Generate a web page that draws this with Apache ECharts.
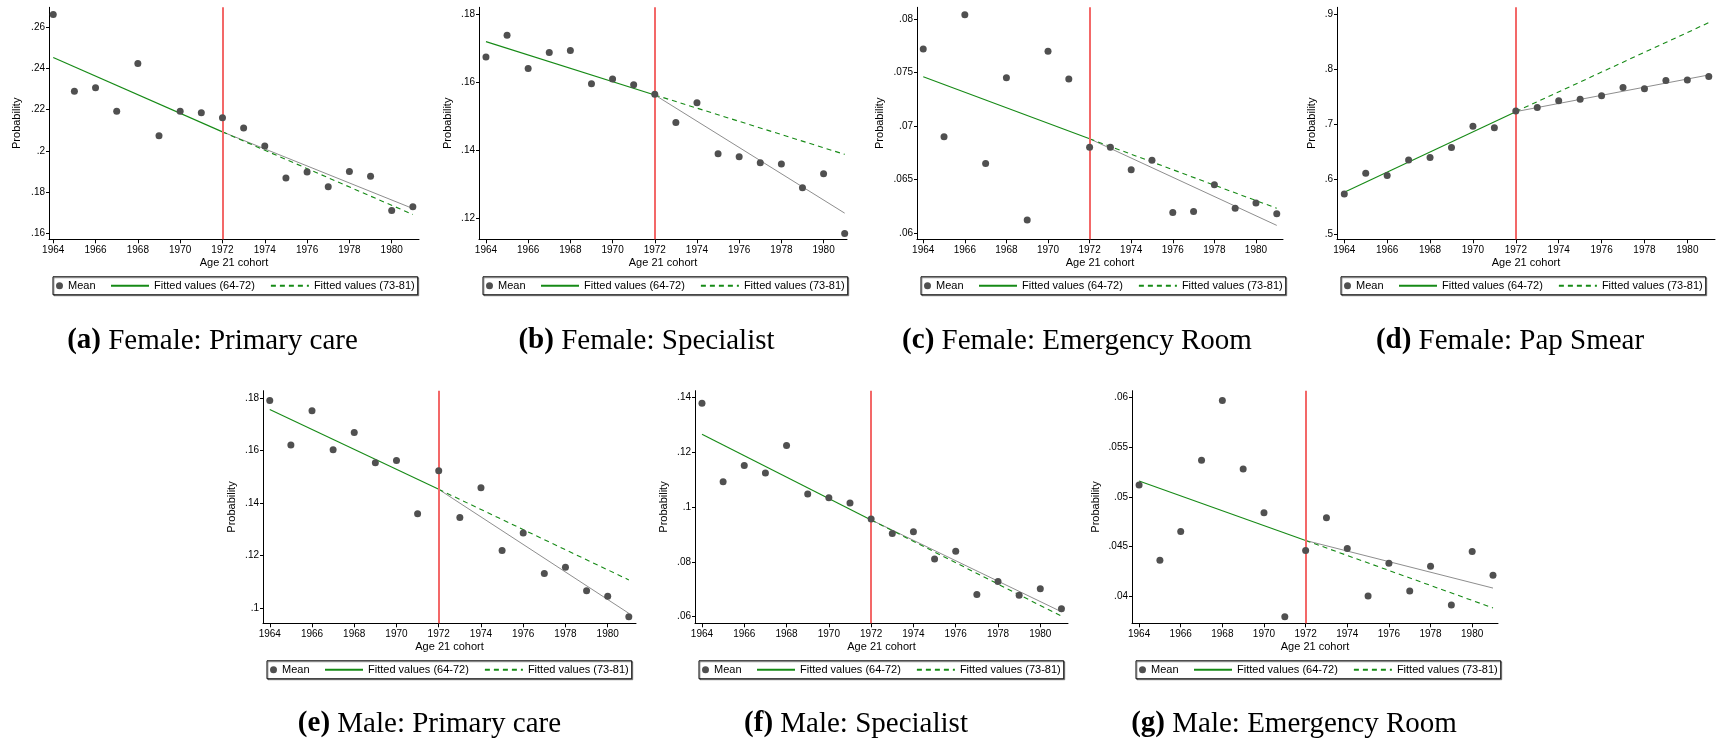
<!DOCTYPE html>
<html><head><meta charset="utf-8">
<script src="https://cdn.jsdelivr.net/npm/echarts@6/dist/echarts.min.js"></script>
<style>html,body{margin:0;padding:0;background:#fff}#c{width:1717px;height:742px}</style>
</head><body><div id="c"></div>
<script>
// ---------------- DATA ----------------
const years = [1964,1965,1966,1967,1968,1969,1970,1971,1972,1973,1974,1975,1976,1977,1978,1979,1980,1981];
const xTicks = [1964,1966,1968,1970,1972,1974,1976,1978,1980];
const cutoffYear = 1972;
const preFitYears = [1964, 1972];
const postFitYears = [1972, 1981];
const legendNames = ['Mean', 'Fitted values (64-72)', 'Fitted values (73-81)'];
const postLineName = 'Fitted (post)';

// (a) Female: Primary care
const femPrimaryMean = [.2660,.2289,.2305,.2192,.2423,.2073,.2192,.2184,.2160,.2111,.2024,.1869,.1898,.1826,.1900,.1877,.1711,.1729];
const femPrimaryPre = [.2452,.2092];
const femPrimaryExtrap = [.2092,.1692];
const femPrimaryPost = [.2092,.1721];
const femPrimaryTicks = [.16,.18,.2,.22,.24,.26];

// (b) Female: Specialist
const femSpecMean = [.1675,.1739,.1641,.1688,.1694,.1596,.1610,.1593,.1565,.1482,.1540,.1390,.1381,.1363,.1360,.1290,.1331,.1155];
const femSpecPre = [.1720,.1563];
const femSpecExtrap = [.1563,.1388];
const femSpecPost = [.1563,.1215];
const femSpecTicks = [.12,.14,.16,.18];

// (c) Female: Emergency Room
const femERMean = [.0772,.0690,.0804,.0665,.0745,.0612,.0770,.0744,.0680,.0680,.0659,.0668,.0619,.0620,.0645,.0623,.0628,.0618];
const femERPre = [.0746,.0688];
const femERExtrap = [.0688,.0623];
const femERPost = [.0688,.0607];
const femERTicks = [.06,.065,.07,.075,.08];

// (d) Female: Pap Smear
const femPapMean = [.5733,.6109,.6067,.6352,.6394,.6576,.6964,.6939,.7242,.7303,.7430,.7455,.7521,.7667,.7648,.7794,.7806,.7867];
const femPapPre = [.5764,.7230];
const femPapExtrap = [.7230,.8848];
const femPapPost = [.7230,.7897];
const femPapTicks = [.5,.6,.7,.8,.9];

// (e) Male: Primary care
const malePrimaryMean = [.1790,.1621,.1751,.1603,.1668,.1553,.1562,.1359,.1523,.1345,.1458,.1220,.1286,.1132,.1156,.1067,.1046,.0968];
const malePrimaryPre = [.1756,.1452];
const malePrimaryExtrap = [.1452,.1108];
const malePrimaryPost = [.1452,.0981];
const malePrimaryTicks = [.1,.12,.14,.16,.18];

// (f) Male: Specialist
const maleSpecMean = [.1378,.1092,.1151,.1124,.1224,.1047,.1034,.1015,.0956,.0903,.0910,.0810,.0839,.0681,.0728,.0678,.0702,.0629];
const maleSpecPre = [.1265,.0953];
const maleSpecExtrap = [.0953,.0602];
const maleSpecPost = [.0953,.0618];
const maleSpecTicks = [.06,.08,.1,.12,.14];

// (g) Male: Emergency Room
const maleERMean = [.0512,.0436,.0465,.0537,.0597,.0528,.0484,.0379,.0446,.0479,.0448,.0400,.0433,.0405,.0430,.0391,.0445,.0421];
const maleERPre = [.0516,.0456];
const maleERExtrap = [.0456,.0388];
const maleERPost = [.0456,.0408];
const maleERTicks = [.04,.045,.05,.055,.06];

const captionLetters = ['(a)','(b)','(c)','(d)','(e)','(f)','(g)'];
const captionTexts = ['Female: Primary care','Female: Specialist','Female: Emergency Room','Female: Pap Smear',
                      'Male: Primary care','Male: Specialist','Male: Emergency Room'];

const panelData = [
  {mean: femPrimaryMean, pre: femPrimaryPre, ext: femPrimaryExtrap, post: femPrimaryPost, ticks: femPrimaryTicks},
  {mean: femSpecMean, pre: femSpecPre, ext: femSpecExtrap, post: femSpecPost, ticks: femSpecTicks},
  {mean: femERMean, pre: femERPre, ext: femERExtrap, post: femERPost, ticks: femERTicks},
  {mean: femPapMean, pre: femPapPre, ext: femPapExtrap, post: femPapPost, ticks: femPapTicks},
  {mean: malePrimaryMean, pre: malePrimaryPre, ext: malePrimaryExtrap, post: malePrimaryPost, ticks: malePrimaryTicks},
  {mean: maleSpecMean, pre: maleSpecPre, ext: maleSpecExtrap, post: maleSpecPost, ticks: maleSpecTicks},
  {mean: maleERMean, pre: maleERPre, ext: maleERExtrap, post: maleERPost, ticks: maleERTicks}
];

// ---------------- LAYOUT / STYLE ----------------
const layout = [
  {left:49,   top:7.3,   width:370, height:232,   xMin:1963.80, xMax:1981.29, yMin:.1572, yMax:.2695, nameGap:27,   capX:212.5, capTop:326.5},
  {left:479,  top:7.3,   width:368, height:232,   xMin:1963.67, xMax:1981.11, yMin:.1138, yMax:.1821, nameGap:26,   capX:646.5, capTop:326.5},
  {left:917,  top:7.3,   width:366, height:232,   xMin:1963.70, xMax:1981.30, yMin:.0594, yMax:.0811, nameGap:32,   capX:1077,  capTop:326.5},
  {left:1337, top:7.3,   width:378, height:232,   xMin:1963.66, xMax:1981.29, yMin:.4909, yMax:.9127, nameGap:20,   capX:1510,  capTop:326.5},
  {left:263,  top:390.7, width:373, height:232.6, xMin:1963.68, xMax:1981.34, yMin:.0943, yMax:.1827, nameGap:26,   capX:429.5, capTop:709.5},
  {left:695,  top:390.7, width:373, height:232.6, xMin:1963.67, xMax:1981.31, yMin:.0576, yMax:.1424, nameGap:25.5, capX:856,   capTop:709.5},
  {left:1132, top:390.7, width:366, height:232.6, xMin:1963.66, xMax:1981.24, yMin:.03725,yMax:.0607, nameGap:30.5, capX:1294,  capTop:709.5}
];

const SANS = 'Liberation Sans, Arial, sans-serif';
const SERIF = 'Liberation Serif, Times New Roman, serif';
const GREEN = '#168a16';
const DOT = '#505050';
const GRAY = '#8e8e8e';
const RED = '#f36868';
const CAP_SIZE = 29;

const grids = [], xAxes = [], yAxes = [], series = [], legends = [], titles = [];

layout.forEach((L, i) => {
  const D = panelData[i];
  grids.push({left: L.left, top: L.top, width: L.width, height: L.height, containLabel: false});
  xAxes.push({
    type: 'value', gridIndex: i, min: L.xMin, max: L.xMax,
    name: 'Age 21 cohort', nameLocation: 'middle', nameGap: 18.5,
    nameTextStyle: {fontFamily: SANS, fontSize: 11, color: '#000'},
    axisLine: {onZero: false, lineStyle: {color: '#000', width: 1}},
    axisTick: {show: true, length: 4, customValues: xTicks, lineStyle: {color: '#000'}},
    axisLabel: {customValues: xTicks, margin: 6, fontFamily: SANS, fontSize: 10, color: '#000', formatter: v => String(v)},
    splitLine: {show: false}
  });
  yAxes.push({
    type: 'value', gridIndex: i, min: L.yMin, max: L.yMax,
    name: 'Probability', nameLocation: 'middle', nameRotate: 90, nameGap: L.nameGap,
    nameTextStyle: {fontFamily: SANS, fontSize: 11, color: '#000'},
    axisLine: {show: true, onZero: false, lineStyle: {color: '#000', width: 1}},
    axisTick: {show: true, length: 3, customValues: D.ticks, lineStyle: {color: '#000'}},
    axisLabel: {customValues: D.ticks, margin: 4, fontFamily: SANS, fontSize: 10, color: '#000',
                formatter: v => String(v).replace(/^0\./, '.')},
    splitLine: {show: false}
  });
  series.push({
    type: 'line', name: postLineName, xAxisIndex: i, yAxisIndex: i, symbol: 'none', z: 2,
    data: postFitYears.map((y, k) => [y, D.post[k]]),
    lineStyle: {color: GRAY, width: 1}, itemStyle: {color: GRAY},
    markLine: {
      silent: true, symbol: ['none', 'none'], animation: false,
      label: {show: false},
      lineStyle: {color: RED, width: 2, type: 'solid'},
      data: [{xAxis: cutoffYear}]
    }
  });
  series.push({
    type: 'line', name: legendNames[1], xAxisIndex: i, yAxisIndex: i, symbol: 'none', z: 3,
    data: preFitYears.map((y, k) => [y, D.pre[k]]),
    lineStyle: {color: GREEN, width: 1.1}, itemStyle: {color: GREEN}
  });
  series.push({
    type: 'line', name: legendNames[2], xAxisIndex: i, yAxisIndex: i, symbol: 'none', z: 3,
    data: postFitYears.map((y, k) => [y, D.ext[k]]),
    lineStyle: {color: GREEN, width: 1.1, type: [5, 4]}, itemStyle: {color: GREEN}
  });
  series.push({
    type: 'scatter', name: legendNames[0], xAxisIndex: i, yAxisIndex: i, symbol: 'circle', symbolSize: 7, z: 5,
    data: years.map((y, k) => [y, D.mean[k]]),
    itemStyle: {color: DOT, opacity: 1}
  });
  const legTop = L.top + L.height + 37.5;
  legends.push({
    left: L.left + 4, top: legTop, orient: 'horizontal', selectedMode: false,
    data: [legendNames[1], legendNames[2]],
    itemWidth: 38, itemHeight: 12, itemGap: 15, padding: [3.5, 3, 3.5, 57],
    itemStyle: {opacity: 0},
    borderColor: '#000', borderWidth: 1, borderRadius: 0, backgroundColor: '#fff',
    shadowColor: 'rgba(0,0,0,0.35)', shadowOffsetX: 1, shadowOffsetY: 1, shadowBlur: 0,
    textStyle: {fontFamily: SANS, fontSize: 11, color: '#000'}, z: 4
  });
  legends.push({
    left: L.left + 7, top: legTop, orient: 'horizontal', selectedMode: false,
    data: [legendNames[0]],
    itemWidth: 7, itemHeight: 12, padding: [3.5, 0, 3.5, 0],
    textStyle: {fontFamily: SANS, fontSize: 11, color: '#000'}, z: 6
  });
  titles.push({
    text: '{b|' + captionLetters[i] + '} ' + captionTexts[i],
    left: L.capX, top: L.capTop, textAlign: 'center', padding: 0,
    textStyle: {fontFamily: SERIF, fontSize: CAP_SIZE, fontWeight: 'normal', color: '#000', lineHeight: CAP_SIZE,
      rich: {b: {fontFamily: SERIF, fontSize: CAP_SIZE, fontWeight: 'bold', color: '#000', lineHeight: CAP_SIZE}}}
  });
});

const chart = echarts.init(document.getElementById('c'), null, {renderer: 'canvas'});
chart.setOption({
  animation: false,
  backgroundColor: '#fff',
  title: titles,
  grid: grids,
  xAxis: xAxes,
  yAxis: yAxes,
  legend: legends,
  series: series
});
</script>
</body></html>
